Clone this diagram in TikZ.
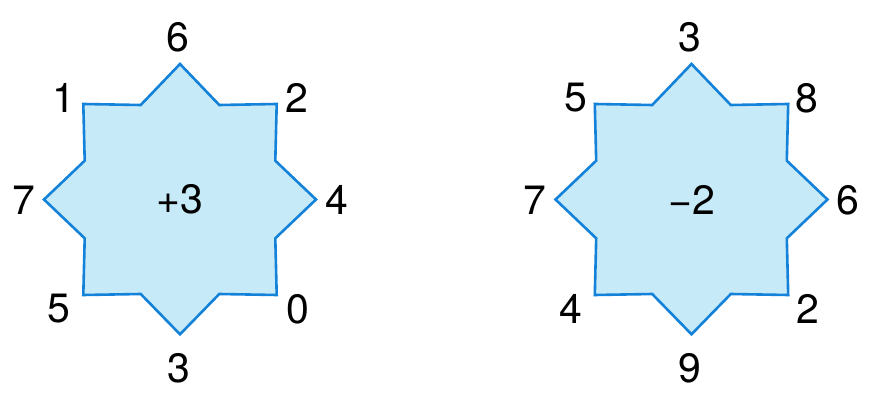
\documentclass[tikz,border=0pt]{standalone}
\usepackage{fontspec}
\setmainfont{TeX Gyre Heros}
\definecolor{starfill}{HTML}{C6EAF8}
\definecolor{starline}{HTML}{1482D9}
\tikzset{
  starshape/.style={draw=starline, fill=starfill, line width=2.6pt, line join=miter},
  lbl/.style={inner sep=0pt, outer sep=0pt, anchor=center, font=\fontsize{41}{41}\selectfont},
  starpath/.pic={
    \path[starshape] (0,135.5) -- (39.3,94.5) -- (96.7,95.5) -- (95.3,38.8) -- (136,0)
      -- (95.3,-38.8) -- (96.7,-95.5) -- (39.3,-94.5) -- (0,-134.8)
      -- (-39.3,-94.5) -- (-96.7,-95.5) -- (-95.3,-38.8) -- (-136,0)
      -- (-95.3,38.8) -- (-96.7,95.5) -- (-39.3,94.5) -- cycle;
  }
}
\begin{document}
\begin{tikzpicture}[x=1pt,y=1pt]
\useasboundingbox (0,0) rectangle (870,394);
% left star
\begin{scope}[shift={(180,194.5)}]
  \pic {starpath};
  \node[lbl] (lc) at (0,0) {+3};
  \node[lbl] (lt) at (-2,162.5) {6};
  \node[lbl] (ltl) at (-116,101.5) {1};
  \node[lbl] (ltr) at (117,101.5) {2};
  \node[lbl] (ll) at (-156,-0.5) {7};
  \node[lbl] (lr) at (157,-0.5) {4};
  \node[lbl] (lbl) at (-121,-109.5) {5};
  \node[lbl] (lbr) at (118,-109.5) {0};
  \node[lbl] (lb) at (-1,-168.5) {3};
\end{scope}
% right star
\begin{scope}[shift={(691.5,194.5)}]
  \pic {starpath};
  \node[lbl] (rc) at (0,0) {−2};
  \node[lbl] (rt) at (-1.5,162.5) {3};
  \node[lbl] (rtl) at (-115.5,101.5) {5};
  \node[lbl] (rtr) at (115.5,101.5) {8};
  \node[lbl] (rl) at (-156.5,-0.5) {7};
  \node[lbl] (rr) at (156.5,-0.5) {6};
  \node[lbl] (rbl) at (-120.5,-109.5) {4};
  \node[lbl] (rbr) at (116.5,-109.5) {2};
  \node[lbl] (rb) at (-1.5,-168.5) {9};
\end{scope}
\end{tikzpicture}
\end{document}
